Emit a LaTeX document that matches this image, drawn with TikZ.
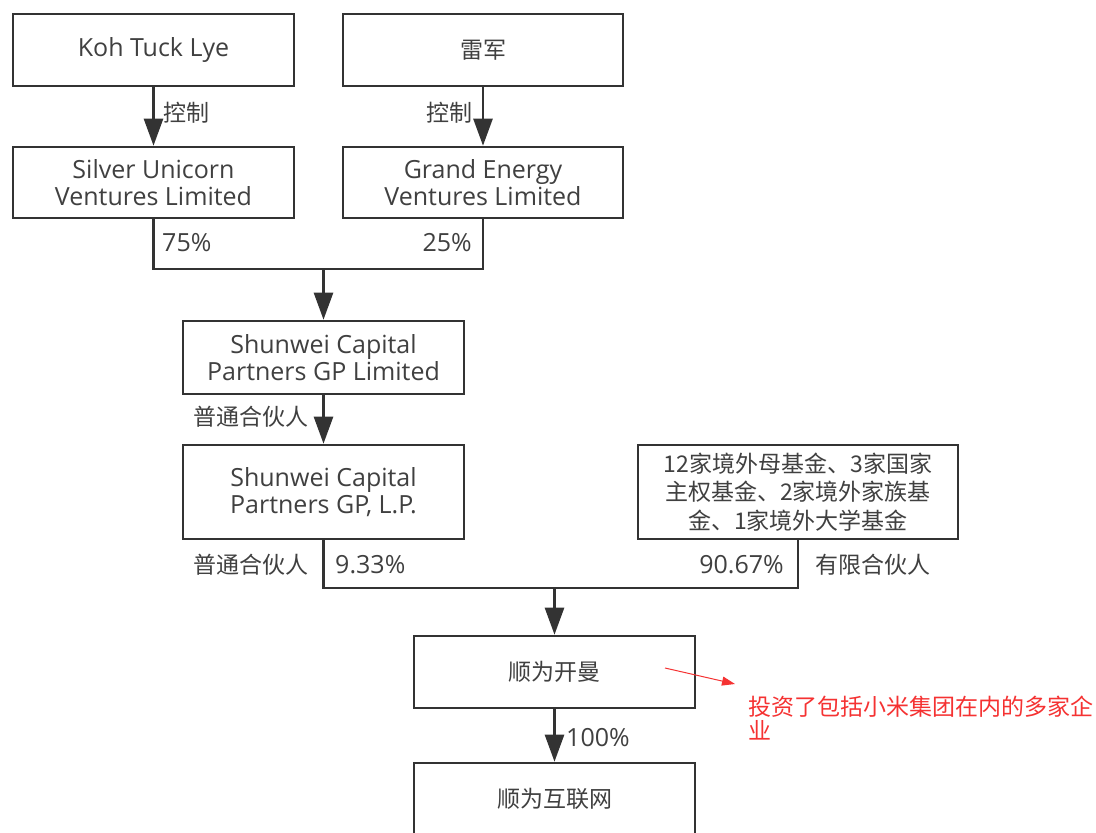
\documentclass[tikz,border=0pt]{standalone}
\usepackage{fontspec}
\setmainfont{Open Sans}
\newfontfamily\cjk{Noto Sans CJK SC}
\usetikzlibrary{arrows.meta}
\definecolor{linec}{HTML}{333333}
\definecolor{txt}{HTML}{404040}
\definecolor{notered}{RGB}{245,50,50}
\begin{document}
\begin{tikzpicture}[x=1pt,y=-1pt,
  box/.style={draw=linec, line width=2.6pt, fill=white, inner sep=0pt, align=center,
    text=txt, font=\fontsize{25}{27.5}\selectfont, minimum width=281pt, minimum height=72pt},
  lbl/.style={text=txt, inner sep=0pt, font=\fontsize{25}{28}\selectfont},
  ln/.style={draw=linec, line width=2.6pt},
  arr/.style={draw=linec, fill=linec, line width=2.6pt, -{Triangle[length=27pt,width=19pt]}},
  redarr/.style={draw=notered, line width=1pt, -{Triangle[length=13pt,width=9pt]}},
  redtxt/.style={text=notered, inner sep=0pt, align=left, font=\cjk\fontsize{23}{24}\selectfont}
]
\fill[white] (0,0) rectangle (1096,833);
\useasboundingbox (0,0) rectangle (1096,833);

\node[box] (koh) at (153.5,50) {Koh Tuck Lye};
\node[box, minimum width=280pt] (lei) at (483,50) {\cjk\fontsize{23}{28}\selectfont 雷军};
\node[box, minimum height=71pt] (silver) at (153.5,182.5) {Silver Unicorn\\Ventures Limited};
\node[box, minimum width=280pt, minimum height=71pt] (grand) at (483,182.5) {Grand Energy\\Ventures Limited};

\draw[arr] (koh) -- (silver);
\draw[arr] (lei) -- (grand);
\node[lbl, anchor=west] (c1) at (163,113) {\cjk\fontsize{23}{28}\selectfont 控制};
\node[lbl, anchor=east] (c2) at (473,113) {\cjk\fontsize{23}{28}\selectfont 控制};
\node[lbl, anchor=west] (p75) at (162,243) {75\%};
\node[lbl, anchor=east] (p25) at (472,243) {25\%};

\node[box, minimum height=73pt] (gpl) at (323.5,357.5) {Shunwei Capital\\Partners GP Limited};
\coordinate (j1) at (323.5,269);
\draw[ln] (silver.south) |- (j1);
\draw[ln] (grand.south) |- (j1);
\draw[arr] (j1) -- (gpl.north);

\node[box, minimum height=94pt] (gplp) at (323.5,492) {Shunwei Capital\\Partners GP, L.P.};
\draw[arr] (gpl) -- (gplp);
\node[lbl, anchor=east] (gp1) at (309,417) {\cjk\fontsize{23}{28}\selectfont 普通合伙人};

\node[box, minimum width=320pt, minimum height=94pt, font=\cjk\fontsize{23}{28.5}\selectfont] (funds) at (798,492)
  {12家境外母基金、3家国家\\主权基金、2家境外家族基\\金、1家境外大学基金};

\node[box] (sk) at (554.5,672) {\cjk\fontsize{23}{28}\selectfont 顺为开曼};
\coordinate (j2) at (554.5,588);
\draw[ln] (gplp.south) |- (j2);
\draw[ln] (funds.south) |- (j2);
\draw[arr] (j2) -- (sk.north);

\node[lbl, anchor=east] (gp2) at (309,565) {\cjk\fontsize{23}{28}\selectfont 普通合伙人};
\node[lbl, anchor=west] (p933) at (335,565) {9.33\%};
\node[lbl, anchor=east] (p9067) at (784,565) {90.67\%};
\node[lbl, anchor=west] (lp) at (815,565) {\cjk\fontsize{23}{28}\selectfont 有限合伙人};

\node[box] (si) at (554.5,799) {\cjk\fontsize{23}{28}\selectfont 顺为互联网};
\draw[arr] (sk) -- (si);
\node[lbl, anchor=west] (p100) at (566,738) {100\%};

\coordinate (rs) at (665,668);
\coordinate (re) at (735,684);
\draw[redarr] (rs) -- (re);
\node[redtxt, anchor=north west] (note) at (748,696) {投资了包括小米集团在内的多家企\\业};
\end{tikzpicture}
\end{document}
